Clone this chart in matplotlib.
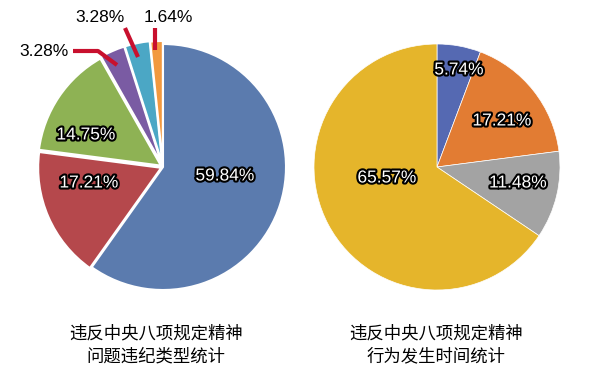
import matplotlib
matplotlib.use("Agg")
import matplotlib.pyplot as plt
import matplotlib.patheffects as pe

# left pie: violation types
left_vals = [59.84, 17.21, 14.75, 3.28, 3.28, 1.64]
left_labels = ["59.84%", "17.21%", "14.75%", "3.28%", "3.28%", "1.64%"]
left_colors = ["#5B7BAE", "#B5484C", "#8EB254", "#7A5BA3", "#4BA7C5", "#F2993F"]
left_title = "违反中央八项规定精神\n问题违纪类型统计"

# right pie: time of violation
right_vals = [5.74, 17.21, 11.48, 65.57]
right_labels = ["5.74%", "17.21%", "11.48%", "65.57%"]
right_colors = ["#5569B2", "#E27C33", "#A3A3A3", "#E5B52B"]
right_title = "违反中央八项规定精神\n行为发生时间统计"

# layout (pixel coords, y down)
left_center = (163, 167)
right_center = (437, 167)
radius = 123
left_explode = [0, 2, 2.5, 3.5, 3.5, 3]
left_text_xy = [(225, 176), (89, 183), (86, 135), (44, 52), (100, 17), (168, 17)]
left_inside = [True, True, True, False, False, False]
right_text_xy = [(459, 70), (502, 121), (518, 183), (387, 178)]
leaders = [[(73, 51), (98, 51), (117, 65)],
           [(125, 28), (138, 57)],
           [(155, 28), (155, 50)]]

fig = plt.figure(figsize=(6, 3.86), dpi=100)
ax = fig.add_axes([0, 0, 1, 1])

ax.pie(left_vals, colors=left_colors, center=left_center, radius=radius,
       startangle=-90, counterclock=True, explode=left_explode,
       wedgeprops=dict(edgecolor="white", linewidth=1.5))
ax.pie(right_vals, colors=right_colors, center=right_center, radius=radius,
       startangle=-90, counterclock=True,
       wedgeprops=dict(edgecolor="white", linewidth=0.5))

ax.set_xlim(0, 600)
ax.set_ylim(386, 0)
ax.set_aspect("equal")
ax.axis("off")

outline = [pe.withStroke(linewidth=3, foreground="black")]
for (x, y), t, inside in zip(left_text_xy, left_labels, left_inside):
    if inside:
        ax.text(x, y, t, ha="center", va="center", fontsize=12.5, color="white",
                family="Liberation Sans", path_effects=outline)
    else:
        ax.text(x, y, t, ha="center", va="center", fontsize=12.5, color="black",
                family="Liberation Sans")
for (x, y), t in zip(right_text_xy, right_labels):
    ax.text(x, y, t, ha="center", va="center", fontsize=12.5, color="white",
            family="Liberation Sans", path_effects=outline)

for pts in leaders:
    xs = [p[0] for p in pts]
    ys = [p[1] for p in pts]
    ax.plot(xs, ys, color="#C8102E", lw=3, solid_capstyle="butt")

ax.text(156, 345, left_title, ha="center", va="center", fontsize=12.5,
        family=["Noto Sans CJK SC", "DejaVu Sans"], weight="medium",
        linespacing=1.35)
ax.text(436, 345, right_title, ha="center", va="center", fontsize=12.5,
        family=["Noto Sans CJK SC", "DejaVu Sans"], weight="medium",
        linespacing=1.35)

fig.savefig("out.png", dpi=100)
